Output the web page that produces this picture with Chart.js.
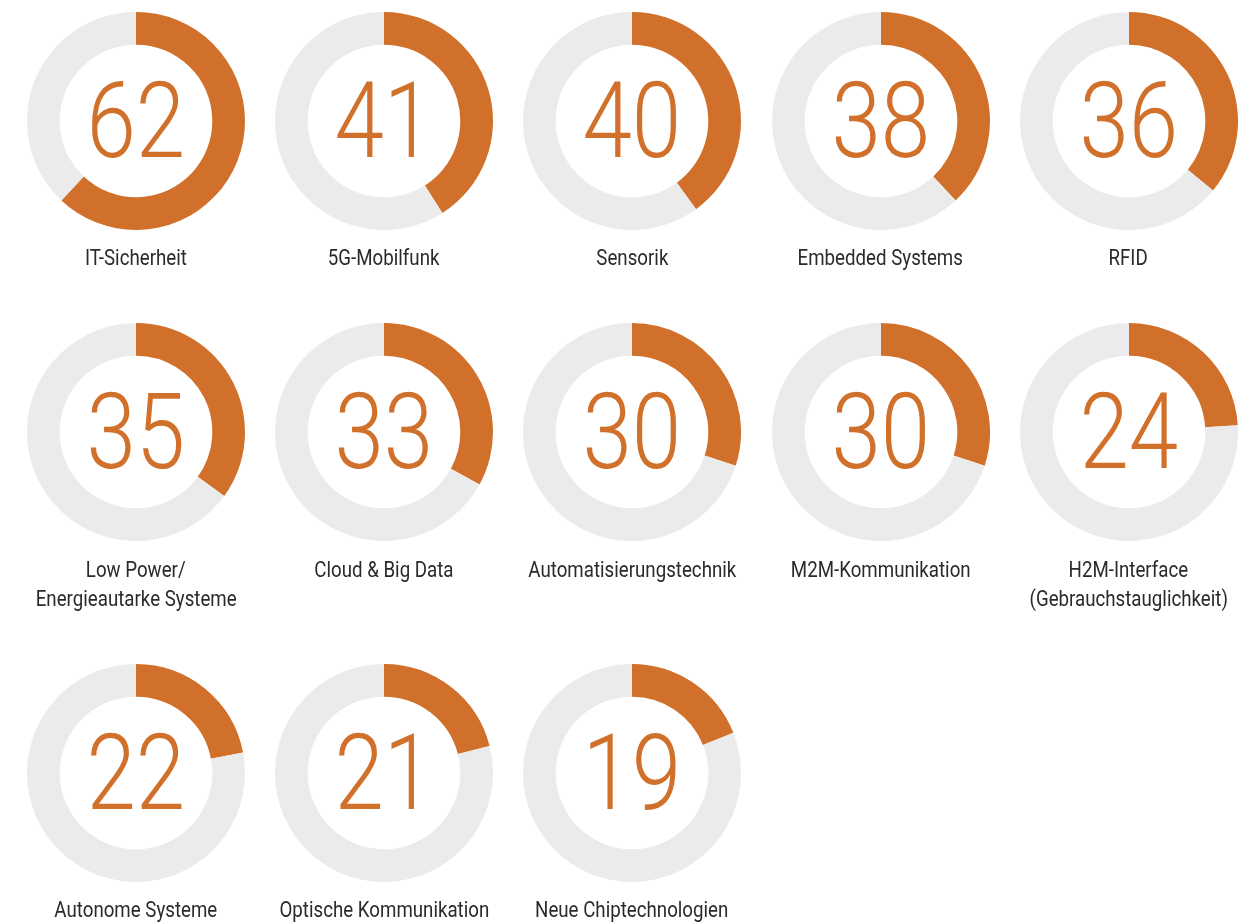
<!DOCTYPE html>
<html>
<head>
<meta charset="utf-8">
<script src="https://cdn.jsdelivr.net/npm/chart.js@4.4.1/dist/chart.umd.min.js"></script>
<style>
  html, body { margin: 0; padding: 0; background: #ffffff; }
  body { width: 1255px; height: 924px; position: relative; overflow: hidden; }
  .cell { position: absolute; width: 218px; height: 218px; }
  .cell canvas { position: absolute; left: 0; top: 0; }
  .num { position: absolute; left: 0; top: 0; width: 218px; height: 218px;
         display: flex; align-items: center; justify-content: center;
         font-family: Roboto, "Liberation Sans", sans-serif; font-weight: 300;
         font-size: 106px; color: #D0702A; line-height: 1; pointer-events: none; }
  .num span { display: inline-block; transform: scaleX(0.84); transform-origin: center; position: relative; top: 0px; }
  .lbl { position: absolute; width: 300px; text-align: center;
         font-family: Roboto, "Liberation Sans", sans-serif;
         font-size: 22px; line-height: 29px; color: #2a2a2a; }
  .lbl div span { display: inline-block; transform: scaleX(0.85); transform-origin: center; white-space: nowrap; }
</style>
</head>
<body>
<script>
const categories = [
  "IT-Sicherheit", "5G-Mobilfunk", "Sensorik", "Embedded Systems", "RFID",
  "Low Power/\nEnergieautarke Systeme", "Cloud & Big Data", "Automatisierungstechnik", "M2M-Kommunikation", "H2M-Interface\n(Gebrauchstauglichkeit)",
  "Autonome Systeme", "Optische Kommunikation", "Neue Chiptechnologien"
];
const values = [62, 41, 40, 38, 36, 35, 33, 30, 30, 24, 22, 21, 19];
const totalValue = 100;

const colCenters = [136, 384, 632, 880.5, 1128.5];
const rowCenters = [121, 432, 773];
const labelTops = [243, 555, 895];
const ringSize = 218;

values.forEach((v, i) => {
  const col = i % 5, row = Math.floor(i / 5);
  const cx = colCenters[col], cy = rowCenters[row];
  const cell = document.createElement('div');
  cell.className = 'cell';
  cell.style.left = (cx - ringSize / 2) + 'px';
  cell.style.top = (cy - ringSize / 2) + 'px';
  const cv = document.createElement('canvas');
  cv.width = ringSize; cv.height = ringSize;
  cell.appendChild(cv);
  const num = document.createElement('div');
  num.className = 'num';
  const sp = document.createElement('span');
  sp.textContent = String(v);
  num.appendChild(sp);
  cell.appendChild(num);
  document.body.appendChild(cell);

  const lbl = document.createElement('div');
  lbl.className = 'lbl';
  lbl.style.left = (cx - 150) + 'px';
  lbl.style.top = labelTops[row] + 'px';
  categories[i].split('\n').forEach(line => {
    const d = document.createElement('div');
    const s = document.createElement('span');
    s.textContent = line;
    d.appendChild(s);
    lbl.appendChild(d);
  });
  document.body.appendChild(lbl);

  new Chart(cv, {
    type: 'doughnut',
    data: {
      labels: [categories[i], ''],
      datasets: [{
        data: [v, totalValue - v],
        backgroundColor: ['#D0702A', '#EBEBEB'],
        borderWidth: 0,
        hoverOffset: 0
      }]
    },
    options: {
      responsive: false,
      animation: false,
      cutout: '70%',
      layout: { padding: 0 },
      plugins: { legend: { display: false }, tooltip: { enabled: false } },
      events: []
    }
  });
});
</script>
</body>
</html>
